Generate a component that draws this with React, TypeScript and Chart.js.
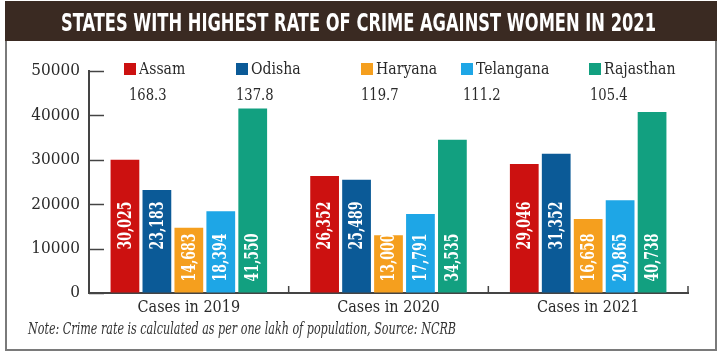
import React, { useEffect, useRef } from "react";
import { Chart, registerables } from "chart.js";

Chart.register(...registerables);

const categories = ["Cases in 2019", "Cases in 2020", "Cases in 2021"];
const states = ["Assam", "Odisha", "Haryana", "Telangana", "Rajasthan"];
const crimeRates = ["168.3", "137.8", "119.7", "111.2", "105.4"];
const assam = [30025, 26352, 29046];
const odisha = [23183, 25489, 31352];
const haryana = [14683, 13000, 16658];
const telangana = [18394, 17791, 20865];
const rajasthan = [41550, 34535, 40738];
const yTicks = [0, 10000, 20000, 30000, 40000, 50000];
const titleText = "STATES WITH HIGHEST RATE OF CRIME AGAINST WOMEN IN 2021";
const noteText = "Note: Crime rate is calculated as per one lakh of population, Source: NCRB";

const colors = ["#cc1110", "#0b5a97", "#f59f1e", "#1ea6e6", "#12a080"];
const SERIF = "'DejaVu Serif Condensed', 'Liberation Serif', serif";

// style-only layout constants
const legendSquareX = [124, 236, 361, 461, 589];
const rateX = [129, 236, 361, 463, 590];
const labelOffset = [43, 43, 11, 11, 11];

function scaledText(ctx: any, txt: string, x: number, y: number, sx: number) {
  ctx.save();
  ctx.translate(x, y);
  ctx.scale(sx, 1);
  ctx.fillText(txt, 0, 0);
  ctx.restore();
}

const decorPlugin = {
  id: "decor",
  afterDatasetsDraw(chart: any) {
    const ctx = chart.ctx;
    ctx.save();
    ctx.fillStyle = "#ffffff";
    ctx.font = `bold 18px ${SERIF}`;
    ctx.textAlign = "left";
    ctx.textBaseline = "middle";
    chart.data.datasets.forEach((ds: any, di: number) => {
      const meta = chart.getDatasetMeta(di);
      meta.data.forEach((el: any, i: number) => {
        const v = ds.data[i];
        const txt = Number(v).toLocaleString("en-US");
        ctx.save();
        ctx.translate(el.x, el.base - labelOffset[di]);
        ctx.rotate(-Math.PI / 2);
        const w = ctx.measureText(txt).width;
        ctx.scale(48 / w, 1);
        ctx.fillText(txt, 0, 1);
        ctx.restore();
      });
    });
    ctx.restore();
  },
  afterDraw(chart: any) {
    const ctx = chart.ctx;
    const area = chart.chartArea;
    const yScale = chart.scales.y;
    const xScale = chart.scales.x;
    ctx.save();

    // title bar
    ctx.fillStyle = "#3a2a22";
    ctx.fillRect(5, 1, 712, 40);
    ctx.font = `bold 25px 'DejaVu Sans Condensed', 'DejaVu Sans', sans-serif`;
    const tw = ctx.measureText(titleText).width;
    ctx.save();
    ctx.translate(358.5, 30.5);
    ctx.scale(595 / tw, 1);
    ctx.fillStyle = "#ffffff";
    ctx.textAlign = "center";
    ctx.textBaseline = "alphabetic";
    ctx.fillText(titleText, 0, 0);
    ctx.restore();

    // frame
    ctx.strokeStyle = "#7a7a7a";
    ctx.lineWidth = 2;
    ctx.beginPath();
    ctx.moveTo(6, 41);
    ctx.lineTo(6, 350);
    ctx.lineTo(716, 350);
    ctx.lineTo(716, 41);
    ctx.stroke();

    // y tick marks (inside)
    ctx.strokeStyle = "#444444";
    ctx.lineWidth = 1.5;
    yScale.ticks.forEach((t: any) => {
      const py = Math.round(yScale.getPixelForValue(t.value)) + 0.5;
      ctx.beginPath();
      ctx.moveTo(area.left, py);
      ctx.lineTo(area.left + 15, py);
      ctx.stroke();
    });

    // x category boundary ticks
    const n = chart.data.labels.length;
    for (let i = 1; i <= n; i++) {
      const px =
        i < n
          ? (xScale.getPixelForValue(i - 1) + xScale.getPixelForValue(i)) / 2
          : area.right;
      ctx.beginPath();
      ctx.moveTo(px, area.bottom);
      ctx.lineTo(px, area.bottom - 7);
      ctx.stroke();
    }

    // legend
    ctx.font = `17px ${SERIF}`;
    ctx.textAlign = "left";
    ctx.textBaseline = "middle";
    chart.data.datasets.forEach((ds: any, di: number) => {
      const sx = legendSquareX[di];
      ctx.fillStyle = ds.backgroundColor;
      ctx.fillRect(sx, 63, 12, 12);
      ctx.fillStyle = "#2a2a2a";
      scaledText(ctx, ds.label, sx + 15, 70, 0.92);
      scaledText(ctx, crimeRates[di], rateX[di], 96, 0.86);
    });

    // note
    ctx.font = `italic 17px ${SERIF}`;
    const nw = ctx.measureText(noteText).width;
    ctx.save();
    ctx.translate(28, 334);
    ctx.scale(428 / nw, 1);
    ctx.fillStyle = "#333333";
    ctx.textAlign = "left";
    ctx.textBaseline = "alphabetic";
    ctx.fillText(noteText, 0, 0);
    ctx.restore();

    ctx.restore();
  },
};

export default function App() {
  const ref = useRef<HTMLCanvasElement | null>(null);
  useEffect(() => {
    if (!ref.current) return;
    const seriesValues = [assam, odisha, haryana, telangana, rajasthan];
    const chart = new Chart(ref.current, {
      type: "bar",
      data: {
        labels: categories,
        datasets: states.map((s, i) => ({
          label: s,
          data: seriesValues[i],
          backgroundColor: colors[i],
          borderWidth: 0,
          categoryPercentage: 0.8,
          barPercentage: 0.9,
        })),
      },
      options: {
        animation: false,
        responsive: true,
        maintainAspectRatio: false,
        layout: { padding: { top: 71, left: 0, right: 35, bottom: 0 } },
        plugins: {
          legend: { display: false },
          title: { display: false },
          tooltip: { enabled: false },
        },
        scales: {
          x: {
            type: "category",
            grid: { display: true, drawOnChartArea: false, drawTicks: false, color: "rgba(0,0,0,0)" },
            border: { display: true, color: "#444444", width: 2 },
            ticks: {
              color: "#2a2a2a",
              font: { family: SERIF, size: 16 },
              padding: 5,
            },
            afterFit: (scale: any) => {
              scale.height = 65;
            },
          },
          y: {
            min: 0,
            max: 50000,
            grid: { display: true, drawOnChartArea: false, drawTicks: false, color: "rgba(0,0,0,0)" },
            border: { display: true, color: "#444444", width: 2 },
            afterBuildTicks: (scale: any) => {
              scale.ticks = yTicks.map((v) => ({ value: v }));
            },
            ticks: {
              color: "#2a2a2a",
              font: { family: SERIF, size: 17 },
              padding: 9,
              callback: (v: any) => String(v),
            },
            afterFit: (scale: any) => {
              scale.width = 89;
            },
          },
        },
      },
      plugins: [decorPlugin],
    });
    return () => chart.destroy();
  }, []);
  return (
    <div style={{ position: "fixed", left: 0, top: 0, width: 723, height: 358, background: "#ffffff" }}>
      <canvas ref={ref} />
    </div>
  );
}
